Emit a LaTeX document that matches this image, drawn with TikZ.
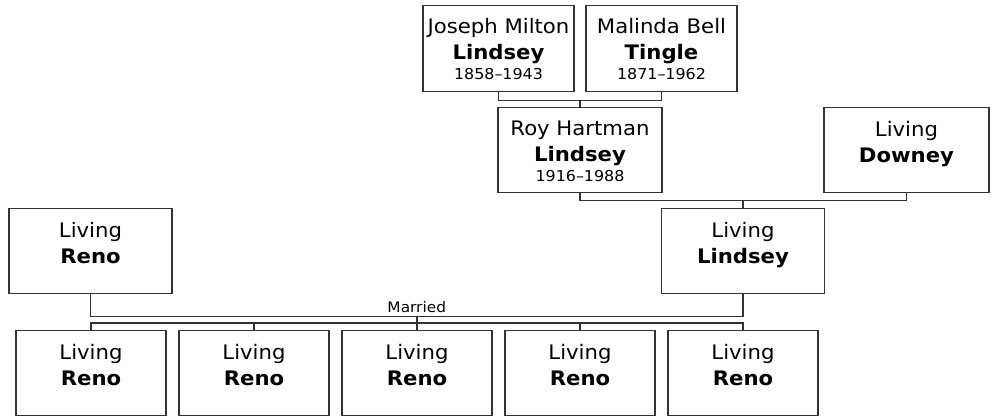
\documentclass[tikz,border=0pt]{standalone}
\usepackage{fontspec}
\setmainfont{DejaVu Sans}[FakeStretch=1.06]
\usetikzlibrary{calc}
\definecolor{linegray}{RGB}{51,51,51}
\newcommand\famcard[5]{% name, center x, top y, width, height
  \node[card, minimum width=#4, minimum height=#5, anchor=north] (#1) at (#2,#3) {};}
\newcommand\twoline[3]{% box, line1, line2
  \node[nametxt] (#1-a) at ($(#1.north)+(0,29.5)$) {#2};
  \node[nametxt] (#1-b) at ($(#1.north)+(0,55.5)$) {\bfseries #3};}
\newcommand\threeline[4]{% box, line1, line2, dates
  \node[nametxt] (#1-a) at ($(#1.north)+(0,28.5)$) {#2};
  \node[nametxt] (#1-b) at ($(#1.north)+(0,55)$) {\bfseries #3};
  \node[datetxt] (#1-c) at ($(#1.north)+(0,75)$) {#4};}
\begin{document}
\begin{tikzpicture}[x=1pt,y=-1pt,
  card/.style={draw=linegray, line width=1.2pt, fill=white, rectangle, inner sep=0pt},
  nametxt/.style={anchor=base, inner sep=0pt, font=\fontsize{20}{24}\selectfont},
  datetxt/.style={anchor=base, inner sep=0pt, font=\fontsize{15}{18}\selectfont},
  conn/.style={draw=linegray, line width=1.2pt}]
\useasboundingbox (0,0) rectangle (991,417);
% grandparents
\famcard{jm}{498.5}{5}{151}{86}
\famcard{mb}{661.5}{5}{151}{86}
\threeline{jm}{Joseph Milton}{Lindsey}{1858–1943}
\threeline{mb}{Malinda Bell}{Tingle}{1871–1962}
% parents' generation
\famcard{roy}{580}{107}{164}{85}
\famcard{dow}{906.5}{107}{165}{85}
\threeline{roy}{Roy Hartman}{Lindsey}{1916–1988}
\twoline{dow}{Living}{Downey}
% couple
\famcard{lr}{90.5}{208}{163}{85}
\famcard{ll}{743}{208}{163}{85}
\twoline{lr}{Living}{Reno}
\twoline{ll}{Living}{Lindsey}
% children
\famcard{c1}{91}{330}{150}{85}
\famcard{c2}{254}{330}{150}{85}
\famcard{c3}{417}{330}{150}{85}
\famcard{c4}{580}{330}{150}{85}
\famcard{c5}{743}{330}{150}{85}
\twoline{c1}{Living}{Reno}
\twoline{c2}{Living}{Reno}
\twoline{c3}{Living}{Reno}
\twoline{c4}{Living}{Reno}
\twoline{c5}{Living}{Reno}
% connectors
\coordinate (m1) at ($(jm.south)!.5!(mb.south)+(0,8)$);
\draw[conn] (jm.south) |- (m1) -| (mb.south);
\draw[conn] (roy.north) -- (roy.north |- m1);
\coordinate (m2) at ($(roy.south)!.5!(dow.south)+(0,7)$);
\draw[conn] (roy.south) |- (m2) -| (dow.south);
\draw[conn] (ll.north) -- (ll.north |- m2);
\coordinate (m3) at ($(lr.south)!.5!(ll.south)+(0,22)$);
\draw[conn] (lr.south) |- (m3) -| (ll.south);
\node[anchor=base, inner sep=0pt, font=\fontsize{14.5}{17}\selectfont] (married) at ($(m3)+(0,-4)$) {Married};
\draw[conn] (c3.north |- m3) -- ++(0,8);
\draw[conn] (c1.north) -- ++(0,-7) -| (c5.north);
\draw[conn] (c2.north) -- ++(0,-7);
\draw[conn] (c3.north) -- ++(0,-7);
\draw[conn] (c4.north) -- ++(0,-7);
\end{tikzpicture}
\end{document}
